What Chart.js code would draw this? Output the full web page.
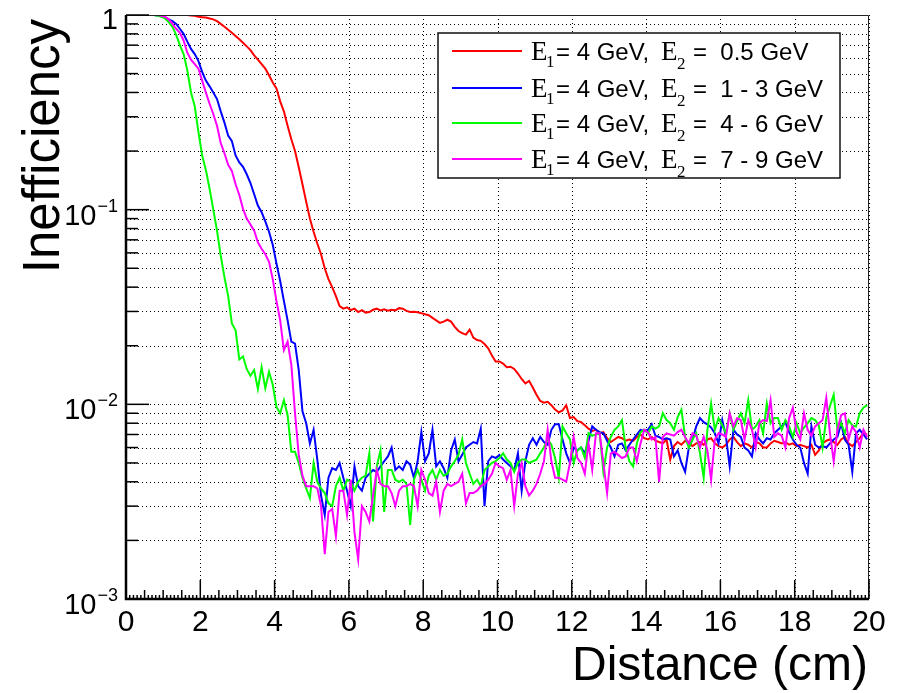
<!DOCTYPE html>
<html>
<head>
<meta charset="utf-8">
<script src="https://cdn.jsdelivr.net/npm/chart.js@4.4.1/dist/chart.umd.min.js"></script>
<style>
  html, body { margin: 0; padding: 0; background: #fff; }
  canvas { display: block; }
</style>
</head>
<body>
<canvas id="ineffChart" width="901" height="693"></canvas>
<script>
// 200 histogram bins of 0.1 cm between 0 and 20 cm
const nBins = 200;
const binWidth = 0.1;
const binCenters = Array.from({ length: nBins }, (_, i) => +((i + 0.5) * binWidth).toFixed(2));

const e1Label = "4 GeV,";
const e2Labels = ["0.5 GeV", "1 - 3 GeV", "4 - 6 GeV", "7 - 9 GeV"];
const lineColors = ["#ff0000", "#0000ff", "#00ff00", "#ff00ff"];

const xMajorTicks = [0, 2, 4, 6, 8, 10, 12, 14, 16, 18, 20];
const yDecades = [1, 0.1, 0.01, 0.001];
const yDecadeLabels = [["1", ""], ["10", "\u22121"], ["10", "\u22122"], ["10", "\u22123"]];
const logSteps = [1, 2, 3, 4, 5, 6, 7, 8, 9];

// E2 = 0.5 GeV
const ineffE2a = [
  1, 1, 1, 1, 1, 1, 1, 1, 1, 1,
  1, 1, 1, 1, 1, 1, 1, 0.995, 0.99, 0.98,
  0.975, 0.97, 0.96, 0.95, 0.93, 0.9, 0.87, 0.84, 0.81, 0.78,
  0.75, 0.72, 0.69, 0.66, 0.62, 0.59, 0.56, 0.53, 0.49, 0.45,
  0.42, 0.36, 0.32, 0.27, 0.23, 0.2, 0.165, 0.135, 0.11, 0.09,
  0.077, 0.067, 0.059, 0.05, 0.044, 0.04, 0.036, 0.032, 0.031, 0.0315,
  0.0305, 0.031, 0.0298, 0.0305, 0.0296, 0.0298, 0.0306, 0.031, 0.0304, 0.0308,
  0.0303, 0.0306, 0.0304, 0.0312, 0.031, 0.0302, 0.0298, 0.0299, 0.0297, 0.0294,
  0.029, 0.0287, 0.0278, 0.027, 0.0262, 0.0266, 0.0272, 0.0266, 0.025, 0.0238,
  0.0232, 0.0228, 0.0242, 0.022, 0.0214, 0.0212, 0.0204, 0.0194, 0.0178, 0.0166,
  0.0166, 0.0162, 0.0155, 0.0156, 0.0152, 0.0144, 0.0135, 0.0128, 0.0132, 0.0122,
  0.0112, 0.0104, 0.0102, 0.0103, 0.0099, 0.0094, 0.0091, 0.0093, 0.0099, 0.0085,
  0.0086, 0.0082, 0.0081, 0.0078, 0.0075, 0.0073, 0.0074, 0.0071, 0.0072, 0.0067,
  0.0064, 0.0066, 0.0068, 0.0067, 0.0065, 0.0066, 0.0065, 0.0068, 0.007, 0.0067,
  0.0066, 0.0068, 0.0065, 0.0064, 0.0063, 0.0066, 0.0052, 0.0061, 0.0064, 0.0062,
  0.0065, 0.0063, 0.0061, 0.0063, 0.0064, 0.0062, 0.0066, 0.0067, 0.0063, 0.0061,
  0.006, 0.0062, 0.0066, 0.0068, 0.0064, 0.0061, 0.0063, 0.0062, 0.006, 0.0064,
  0.0063, 0.006, 0.006, 0.0063, 0.0065, 0.0064, 0.0063, 0.0064, 0.0062, 0.0063,
  0.0061, 0.0062, 0.0061, 0.006, 0.0062, 0.0055, 0.0058, 0.0063, 0.0065, 0.0066,
  0.0064, 0.0062, 0.0066, 0.0068, 0.0063, 0.0061, 0.0064, 0.0067, 0.0071, 0.007
];

// E2 = 1 - 3 GeV
const ineffE2b = [
  1, 1, 1, 1, 1, 1, 1, 1, 0.995, 0.985,
  0.97, 0.95, 0.93, 0.9, 0.85, 0.8, 0.73, 0.67, 0.63, 0.58,
  0.51, 0.46, 0.43, 0.4, 0.37, 0.32, 0.28, 0.24, 0.225, 0.19,
  0.175, 0.166, 0.152, 0.137, 0.12, 0.105, 0.097, 0.087, 0.077, 0.066,
  0.053, 0.043, 0.034, 0.027, 0.021, 0.0205, 0.015, 0.0092, 0.008, 0.0063,
  0.0074, 0.0052, 0.0034, 0.0027, 0.0042, 0.0047, 0.0046, 0.005, 0.0042, 0.0036,
  0.003, 0.0048, 0.0038, 0.0036, 0.0042, 0.0044, 0.0046, 0.0045, 0.0048, 0.0051,
  0.0054, 0.006, 0.0046, 0.0048, 0.0046, 0.0051, 0.0049, 0.0042, 0.0051, 0.0072,
  0.0051, 0.0056, 0.0074, 0.0048, 0.0051, 0.0047, 0.0042, 0.0058, 0.0066, 0.0051,
  0.0055, 0.006, 0.0062, 0.0064, 0.0063, 0.0075, 0.003, 0.0051, 0.0054, 0.0053,
  0.0055, 0.0052, 0.005, 0.0048, 0.0046, 0.0056, 0.0036, 0.0051, 0.0062, 0.0067,
  0.0062, 0.0068, 0.0064, 0.0062, 0.0074, 0.0079, 0.0079, 0.0066, 0.0056, 0.005,
  0.006, 0.0058, 0.006, 0.0056, 0.0065, 0.0077, 0.0074, 0.0072, 0.0071, 0.0065,
  0.006, 0.0054, 0.0062, 0.0063, 0.0058, 0.0062, 0.0066, 0.007, 0.0074, 0.0073,
  0.0074, 0.0079, 0.0069, 0.0068, 0.0066, 0.0067, 0.0066, 0.0054, 0.0058, 0.005,
  0.0045, 0.006, 0.0066, 0.0077, 0.0085, 0.0081, 0.0079, 0.0076, 0.0071, 0.0063,
  0.0083, 0.0068, 0.0048, 0.0074, 0.007, 0.0068, 0.006, 0.0058, 0.0054, 0.0071,
  0.0066, 0.0063, 0.0067, 0.0066, 0.0071, 0.0074, 0.0077, 0.0081, 0.0072, 0.0066,
  0.0062, 0.006, 0.005, 0.0044, 0.0077, 0.0062, 0.006, 0.0061, 0.006, 0.0063,
  0.0066, 0.0068, 0.008, 0.0066, 0.0062, 0.0045, 0.0071, 0.0074, 0.007, 0.0066
];

// E2 = 4 - 6 GeV
const ineffE2c = [
  1, 1, 1, 1, 1, 1, 1, 1, 0.99, 0.98,
  0.96, 0.92, 0.87, 0.79, 0.7, 0.63, 0.52, 0.4, 0.34, 0.25,
  0.19, 0.16, 0.128, 0.1, 0.078, 0.058, 0.045, 0.036, 0.026, 0.024,
  0.017, 0.0176, 0.0152, 0.014, 0.015, 0.012, 0.0155, 0.0121, 0.0147, 0.0126,
  0.0097, 0.009, 0.0105, 0.0088, 0.0057, 0.0057, 0.005, 0.0042, 0.0037, 0.0033,
  0.005, 0.004, 0.0037, 0.0035, 0.0031, 0.003, 0.0038, 0.0042, 0.0036, 0.0041,
  0.004, 0.0036, 0.004, 0.0042, 0.0043, 0.0056, 0.0025, 0.0048, 0.0058, 0.0028,
  0.0046, 0.0046, 0.0041, 0.004, 0.0041, 0.0039, 0.0024, 0.0041, 0.0046, 0.0041,
  0.0036, 0.0043, 0.0046, 0.0041, 0.0046, 0.0043, 0.0044, 0.0048, 0.0051, 0.0055,
  0.0066, 0.005, 0.0044, 0.0039, 0.0041, 0.0038, 0.0046, 0.0048, 0.005, 0.0051,
  0.0053, 0.0056, 0.0052, 0.005, 0.0045, 0.005, 0.0052, 0.0052, 0.005, 0.0051,
  0.0052, 0.0056, 0.006, 0.0066, 0.0062, 0.0053, 0.0042, 0.0077, 0.0071, 0.0066,
  0.005, 0.0058, 0.006, 0.0053, 0.0071, 0.0069, 0.007, 0.0071, 0.0045, 0.006,
  0.0068, 0.0074, 0.0077, 0.0083, 0.006, 0.0051, 0.0048, 0.0063, 0.0072, 0.0074,
  0.0071, 0.0077, 0.0075, 0.0077, 0.009, 0.0083, 0.008, 0.0074, 0.0086, 0.0094,
  0.0068, 0.006, 0.0066, 0.0071, 0.0056, 0.0042, 0.0074, 0.0101, 0.0074, 0.0085,
  0.0078, 0.0071, 0.009, 0.0074, 0.0082, 0.009, 0.008, 0.0105, 0.0074, 0.0077,
  0.0083, 0.0071, 0.0101, 0.008, 0.0085, 0.0085, 0.0074, 0.0083, 0.0077, 0.0068,
  0.008, 0.0071, 0.0076, 0.008, 0.0085, 0.0083, 0.0078, 0.006, 0.0085, 0.0098,
  0.0112, 0.0074, 0.008, 0.0071, 0.0083, 0.0078, 0.0077, 0.009, 0.0096, 0.0099
];

// E2 = 7 - 9 GeV
const ineffE2d = [
  1, 1, 1, 1, 1, 1, 1, 1, 1, 0.99,
  0.98, 0.95, 0.9, 0.85, 0.81, 0.74, 0.64, 0.59, 0.56, 0.53,
  0.46, 0.4, 0.35, 0.31, 0.27, 0.22, 0.195, 0.17, 0.158, 0.135,
  0.119, 0.101, 0.09, 0.084, 0.078, 0.068, 0.063, 0.059, 0.054, 0.044,
  0.034, 0.027, 0.019, 0.021, 0.016, 0.009, 0.0055, 0.0043, 0.0038, 0.0038,
  0.0038, 0.0037, 0.003, 0.0017, 0.0028, 0.0029, 0.0021, 0.0036, 0.0036, 0.0027,
  0.0041, 0.0022, 0.0016, 0.003, 0.0028, 0.0025, 0.0034, 0.0046, 0.0039, 0.0038,
  0.0038, 0.0035, 0.003, 0.0036, 0.0038, 0.0038, 0.0039, 0.0038, 0.003, 0.0046,
  0.0041, 0.0035, 0.0034, 0.004, 0.0028, 0.0036, 0.0039, 0.0038, 0.0039, 0.004,
  0.0044, 0.0031, 0.0035, 0.0035, 0.0036, 0.0038, 0.0039, 0.0041, 0.0044, 0.005,
  0.0048, 0.0047, 0.0041, 0.0046, 0.003, 0.0044, 0.005, 0.0038, 0.0034, 0.0036,
  0.0039, 0.0044, 0.0051, 0.0074, 0.0051, 0.0042, 0.0042, 0.0041, 0.004, 0.005,
  0.0068, 0.0053, 0.005, 0.0044, 0.0063, 0.0046, 0.0071, 0.0071, 0.005, 0.0035,
  0.0056, 0.0057, 0.0055, 0.0053, 0.0054, 0.006, 0.006, 0.0051, 0.0063, 0.0074,
  0.0072, 0.0066, 0.0068, 0.004, 0.0068, 0.0071, 0.007, 0.0069, 0.0072, 0.0074,
  0.0068, 0.0063, 0.0071, 0.0069, 0.006, 0.0068, 0.0058, 0.0041, 0.0066, 0.0071,
  0.007, 0.0068, 0.009, 0.0077, 0.0085, 0.0083, 0.0066, 0.0083, 0.0074, 0.006,
  0.008, 0.0083, 0.0082, 0.0105, 0.0068, 0.0071, 0.0069, 0.006, 0.0085, 0.0096,
  0.0072, 0.0066, 0.009, 0.0074, 0.0069, 0.0077, 0.008, 0.0083, 0.0108, 0.0071,
  0.0051, 0.0074, 0.0088, 0.009, 0.0066, 0.0077, 0.0072, 0.006, 0.0074, 0.0068
];

const seriesValues = [ineffE2a, ineffE2b, ineffE2c, ineffE2d];

const sansFont = '"Liberation Sans", Arial, Helvetica, sans-serif';
const serifFont = '"Liberation Serif", "Times New Roman", serif';

// ROOT style frame: dotted grid, axes with 3 levels of ticks, titles, legend box
const rootFrame = {
  id: "rootFrame",
  beforeDatasetsDraw(chart) {
    const { ctx, chartArea: { left, right, top, bottom }, scales: { x, y } } = chart;
    ctx.save();
    ctx.strokeStyle = "#000";
    ctx.lineWidth = 1;
    ctx.setLineDash([1, 3]);
    xMajorTicks.forEach((v) => {
      const px = Math.round(x.getPixelForValue(v)) + 0.5;
      ctx.beginPath();
      ctx.moveTo(px, top);
      ctx.lineTo(px, bottom);
      ctx.stroke();
    });
    yDecades.forEach((d) => {
      logSteps.forEach((k) => {
        const v = d * k;
        if (v > 1) return;
        const py = Math.round(y.getPixelForValue(v)) + 0.5;
        ctx.beginPath();
        ctx.moveTo(left, py);
        ctx.lineTo(right, py);
        ctx.stroke();
      });
    });
    ctx.restore();
  },
  afterDatasetsDraw(chart) {
    const { ctx, chartArea: { left, right, top, bottom }, scales: { x, y } } = chart;
    ctx.save();

    // frame
    ctx.strokeStyle = "#222";
    ctx.lineWidth = 1;
    ctx.beginPath();
    ctx.moveTo(left, top + 0.5);
    ctx.lineTo(right - 0.5, top + 0.5);
    ctx.lineTo(right - 0.5, bottom);
    ctx.stroke();

    ctx.strokeStyle = "#000";
    ctx.lineWidth = 2.5;
    ctx.beginPath();
    ctx.moveTo(left, top);
    ctx.lineTo(left, bottom);
    ctx.lineTo(right, bottom);
    ctx.stroke();

    // y ticks
    ctx.lineWidth = 1.5;
    yDecades.forEach((d) => {
      logSteps.forEach((k) => {
        const v = d * k;
        if (v > 1) return;
        const py = y.getPixelForValue(v);
        const len = k === 1 ? 23 : 12;
        ctx.beginPath();
        ctx.moveTo(left, py);
        ctx.lineTo(left + len, py);
        ctx.stroke();
      });
    });

    // x ticks: 2 cm, 0.5 cm, 0.1 cm
    for (let i = 0; i <= 200; i++) {
      const px = x.getPixelForValue(i / 10);
      const len = i % 20 === 0 ? 19 : i % 5 === 0 ? 9 : 4;
      ctx.beginPath();
      ctx.moveTo(px, bottom);
      ctx.lineTo(px, bottom - len);
      ctx.stroke();
    }

    // tick labels
    ctx.fillStyle = "#000";
    ctx.font = `30px ${sansFont}`;
    ctx.textAlign = "center";
    ctx.textBaseline = "alphabetic";
    xMajorTicks.forEach((v) => {
      ctx.fillText(String(v), x.getPixelForValue(v), 631);
    });

    yDecades.forEach((d, i) => {
      const py = y.getPixelForValue(d);
      const [base, exp] = yDecadeLabels[i];
      ctx.textAlign = "right";
      if (!exp) {
        ctx.font = `29px ${sansFont}`;
        ctx.fillText(base, 118, py + 14);
        return;
      }
      ctx.font = `18px ${sansFont}`;
      const expW = ctx.measureText(exp).width;
      ctx.fillText(exp, 118, py + 2);
      ctx.font = `29px ${sansFont}`;
      ctx.fillText(base, 118 - expW - 1, py + 15);
    });

    // axis titles
    ctx.font = `48px ${sansFont}`;
    ctx.textAlign = "right";
    ctx.fillText("Distance (cm)", 868, 680);

    ctx.save();
    ctx.translate(59, 19);
    ctx.rotate(-Math.PI / 2);
    ctx.font = `51px ${sansFont}`;
    ctx.textAlign = "right";
    ctx.fillText("Inefficiency", 0, 0);
    ctx.restore();

    // legend
    const box = { x: 438, y: 33, w: 402, h: 145 };
    ctx.fillStyle = "#fff";
    ctx.fillRect(box.x, box.y, box.w, box.h);
    ctx.strokeStyle = "#111";
    ctx.lineWidth = 1.5;
    ctx.strokeRect(box.x, box.y, box.w, box.h);

    const rowY = [51, 88, 123, 159];
    e2Labels.forEach((lbl, i) => {
      const ly = rowY[i];
      ctx.strokeStyle = lineColors[i];
      ctx.lineWidth = 2;
      ctx.beginPath();
      ctx.moveTo(452, ly);
      ctx.lineTo(522, ly);
      ctx.stroke();

      const b = ly + 8.5;
      ctx.fillStyle = "#000";
      ctx.textAlign = "left";
      ctx.font = `27px ${serifFont}`;
      ctx.fillText("E", 531, b);
      ctx.fillText("E", 661, b);
      ctx.font = `17px ${serifFont}`;
      ctx.fillText("1", 546, b + 7);
      ctx.fillText("2", 677, b + 9);
      ctx.font = `24px ${sansFont}`;
      ctx.fillText("= " + e1Label, 556, b);
      ctx.fillText("=  " + lbl, 693, b);
    });

    ctx.restore();
  },
};

const chart = new Chart(document.getElementById("ineffChart").getContext("2d"), {
  type: "line",
  data: {
    datasets: seriesValues.map((vals, i) => ({
      label: "E1 = " + e1Label + " E2 = " + e2Labels[i],
      data: binCenters.map((d, j) => ({ x: d, y: vals[j] })),
      borderColor: lineColors[i],
      borderWidth: 2,
      pointRadius: 0,
      tension: 0,
      fill: false,
      order: 3 - i,
    })),
  },
  options: {
    responsive: false,
    animation: false,
    events: [],
    layout: { padding: { left: 126, right: 32, top: 15, bottom: 94 } },
    scales: {
      x: { type: "linear", min: 0, max: 20, display: false },
      y: { type: "logarithmic", min: 0.001, max: 1, display: false },
    },
    plugins: { legend: { display: false }, tooltip: { enabled: false } },
  },
  plugins: [rootFrame],
});
</script>
</body>
</html>
